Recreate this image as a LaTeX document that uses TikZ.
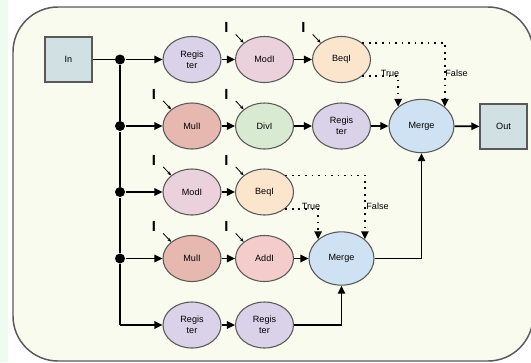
\documentclass[tikz,border=0pt]{standalone}
\usepackage{fontspec}
\setmainfont{Liberation Sans}
\usetikzlibrary{shapes.geometric,arrows.meta}

\definecolor{boardfill}{HTML}{F8FBEE}
\definecolor{stripfill}{HTML}{EEFCEF}
\definecolor{opline}{HTML}{595959}
\definecolor{regfill}{HTML}{D9D2E9}
\definecolor{modfill}{HTML}{EAD1DC}
\definecolor{beqfill}{HTML}{FCE5CD}
\definecolor{mulfill}{HTML}{E6B8AF}
\definecolor{divfill}{HTML}{D9EAD3}
\definecolor{addfill}{HTML}{F4CCCC}
\definecolor{mergefill}{HTML}{CFE2F3}
\definecolor{portfill}{HTML}{D0E0E3}

\tikzset{every picture/.style={line width=0.75pt}}
\tikzset{
  opnode/.style={ellipse, draw=opline, line width=0.8pt, minimum width=43.5pt, minimum height=34.5pt,
    inner sep=0pt, align=center, font=\fontsize{6.8}{8.5}\selectfont},
  mergenode/.style={opnode, fill=mergefill, minimum width=48.75pt, minimum height=40pt},
  portbox/.style={rectangle, draw=opline, line width=0.8pt, fill=portfill, minimum width=35.25pt,
    minimum height=33.75pt, font=\fontsize{6.8}{8.5}\selectfont},
  wire/.style={line width=1.3pt},
  flow/.style={wire, -{Triangle[length=6pt,width=5.5pt]}},
  cond/.style={flow, dash pattern={on 1.3pt off 3.6pt}},
  jdot/.style={circle, fill=black, inner sep=0pt, minimum size=7.5pt},
  imark/.style={inner sep=0pt, font=\bfseries\fontsize{11}{11}\selectfont},
  iarrow/.style={line width=0.6pt, -{Stealth[length=3pt,width=2.5pt]}},
  condlabel/.style={inner sep=0.75pt, font=\fontsize{6.8}{8.5}\selectfont},
}

\begin{document}
\begin{tikzpicture}[x=0.75pt,y=0.75pt,yscale=-1,xscale=1]
\useasboundingbox (0,0) rectangle (531,362);

%Shape: Background strip
\fill [stripfill] (0,0) rectangle (8,362);
%Shape: Rounded board
\draw [draw=opline, line width=1.1pt, fill=boardfill, rounded corners=33.75pt] (13,7) rectangle (533,361);

%Shape: Boxes
\node [portbox] (in) at (68.5,59.5) {In};
\node [portbox] (out) at (503.5,126.5) {Out};

%Shape: Junctions
\node [jdot] (j1) at (120,59.5) {};
\node [jdot] (j2) at (120,126) {};
\node [jdot] (j3) at (120,192) {};
\node [jdot] (j4) at (120,258.5) {};
\coordinate (c5) at (120,325);

%Shape: Ellipses, row 1
\node [opnode, fill=regfill] (reg1) at (192,59.5) {Regis\\ter};
\node [opnode, fill=modfill] (mod1) at (264.5,59.5) {ModI};
\node [opnode, fill=beqfill] (beq1) at (341.5,59.5) {BeqI};
%Shape: Ellipses, row 2
\node [opnode, fill=mulfill] (mul2) at (192,126) {MulI};
\node [opnode, fill=divfill] (div2) at (264.5,126) {DivI};
\node [opnode, fill=regfill] (reg2) at (341.5,126) {Regis\\ter};
\node [mergenode] (merge1) at (421.5,126) {Merge};
%Shape: Ellipses, row 3
\node [opnode, fill=modfill] (mod3) at (192,192) {ModI};
\node [opnode, fill=beqfill] (beq3) at (264.5,192) {BeqI};
%Shape: Ellipses, row 4
\node [opnode, fill=mulfill] (mul4) at (192,258.5) {MulI};
\node [opnode, fill=addfill] (add4) at (264.5,258.5) {AddI};
\node [mergenode] (merge2) at (341.5,258.5) {Merge};
%Shape: Ellipses, row 5
\node [opnode, fill=regfill] (reg5) at (192,325) {Regis\\ter};
\node [opnode, fill=regfill] (reg6) at (264.5,325) {Regis\\ter};

%Straight Lines: input bus
\draw [wire] (in) -- (j1);
\draw [wire] (j1) -- (j2) -- (j3) -- (j4) -- (c5);
\draw [flow] (j1) -- (reg1);
\draw [flow] (j2) -- (mul2);
\draw [flow] (j3) -- (mod3);
\draw [flow] (j4) -- (mul4);
\draw [flow] (c5) -- (reg5);

%Straight Lines: rows
\draw [flow] (reg1) -- (mod1);
\draw [flow] (mod1) -- (beq1);
\draw [flow] (mul2) -- (div2);
\draw [flow] (div2) -- (reg2);
\draw [flow] (reg2) -- (merge1);
\draw [flow] (merge1) -- (out);
\draw [flow] (mod3) -- (beq3);
\draw [flow] (mul4) -- (add4);
\draw [flow] (add4) -- (merge2);
\draw [flow] (reg5) -- (reg6);
\draw [flow] (reg6.east) -| (merge2.south);
\draw [flow] (merge2.east) -| (merge1.south);

%Dotted Lines: branches
\draw [cond] (beq1.north east) -| (merge1.north east);
\draw [cond] (beq1.south east) -| (merge1.north west);
\draw [cond] (beq3.north east) -| (merge2.north east);
\draw [cond] (beq3.south east) -| (merge2.north west);

% Text Node
\node [condlabel] (true1) at (390,73) {True};
% Text Node
\node [condlabel] (false1) at (456.5,73) {False};
% Text Node
\node [condlabel] (true3) at (311,206) {True};
% Text Node
\node [condlabel] (false3) at (377.5,206) {False};

% Text Node: I markers
\node [imark] (imod1) at (226.5,27.5) {I};
\draw [iarrow] ([shift={(5pt,1pt)}]imod1.south east) -- (mod1.north west);
\node [imark] (ibeq1) at (303.5,27.5) {I};
\draw [iarrow] ([shift={(5pt,1pt)}]ibeq1.south east) -- (beq1.north west);
\node [imark] (imul2) at (154,94) {I};
\draw [iarrow] ([shift={(5pt,1pt)}]imul2.south east) -- (mul2.north west);
\node [imark] (idiv2) at (226.5,94) {I};
\draw [iarrow] ([shift={(5pt,1pt)}]idiv2.south east) -- (div2.north west);
\node [imark] (imod3) at (154,160) {I};
\draw [iarrow] ([shift={(5pt,1pt)}]imod3.south east) -- (mod3.north west);
\node [imark] (ibeq3) at (226.5,160) {I};
\draw [iarrow] ([shift={(5pt,1pt)}]ibeq3.south east) -- (beq3.north west);
\node [imark] (imul4) at (154,226.5) {I};
\draw [iarrow] ([shift={(5pt,1pt)}]imul4.south east) -- (mul4.north west);
\node [imark] (iadd4) at (226.5,226.5) {I};
\draw [iarrow] ([shift={(5pt,1pt)}]iadd4.south east) -- (add4.north west);

\end{tikzpicture}
\end{document}
